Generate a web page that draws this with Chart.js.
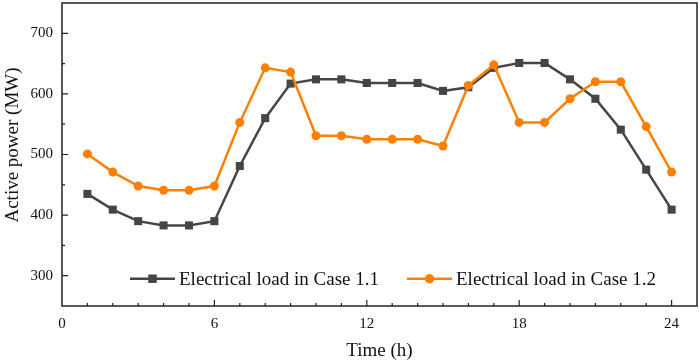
<!DOCTYPE html>
<html>
<head>
<meta charset="utf-8">
<script src="https://cdn.jsdelivr.net/npm/chart.js@4/dist/chart.umd.min.js"></script>
<style>
	html, body { margin: 0; padding: 0; background: #fff; }
	#wrap { width: 699px; height: 362px; }
</style>
</head>
<body>
<div id="wrap"><canvas id="chart1" width="699" height="362"></canvas></div>
<script>
(() => {
	'use strict'

	// Chart data
	const hours = [1, 2, 3, 4, 5, 6, 7, 8, 9, 10, 11, 12, 13, 14, 15, 16, 17, 18, 19, 20, 21, 22, 23, 24];
	const case11 = [435, 409, 390, 383, 383, 390, 481, 560, 617, 624, 624, 618, 618, 618, 605, 611, 643, 651, 651, 624, 592, 541, 475, 409];
	const case12 = [501, 471, 448, 441, 441, 448, 553, 643, 636, 531, 531, 525, 525, 525, 514, 614, 648, 553, 553, 592, 620, 620, 546, 471];
	const seriesLabels = ['Electrical load in Case 1.1', 'Electrical load in Case 1.2'];
	const xTicks = [0, 6, 12, 18, 24];
	const yTicks = [300, 400, 500, 600, 700];
	const xTitle = 'Time (h)';
	const yTitle = 'Active power (MW)';

	const grayColor = '#454545';
	const orangeColor = '#ff8000';
	const serif = '"Liberation Serif", "Times New Roman", serif';

	// Frame, inward ticks, titles and the in-plot legend
	const framePlugin = {
		id: 'frame',
		afterDraw(chart) {
			const ctx = chart.ctx;
			const area = chart.chartArea;
			const xs = chart.scales.x;
			const ys = chart.scales.y;
			ctx.save();
			ctx.strokeStyle = '#222';
			ctx.lineWidth = 1.5;
			ctx.strokeRect(area.left, area.top, area.right - area.left, area.bottom - area.top);

			// x ticks (major every 6, minor every 1)
			ctx.lineWidth = 1.2;
			ctx.beginPath();
			for (let v = 1; v <= 24; v++) {
				const px = xs.getPixelForValue(v);
				const len = xTicks.includes(v) ? 6 : 3;
				ctx.moveTo(px, area.bottom);
				ctx.lineTo(px, area.bottom - len);
			}
			// y ticks (major every 100, minor every 50)
			for (let v = 300; v <= 700; v += 50) {
				const py = ys.getPixelForValue(v);
				const len = yTicks.includes(v) ? 6 : 3;
				ctx.moveTo(area.left, py);
				ctx.lineTo(area.left + len, py);
			}
			ctx.stroke();

			// axis titles
			ctx.fillStyle = '#111';
			ctx.font = '19px ' + serif;
			ctx.textAlign = 'center';
			ctx.textBaseline = 'middle';
			ctx.fillText(xTitle, (area.left + area.right) / 2, 351);
			ctx.save();
			ctx.translate(13, 145);
			ctx.rotate(-Math.PI / 2);
			ctx.fillText(yTitle, 0, 0);
			ctx.restore();

			// legend
			const legendY = ys.getPixelForValue(295);
			const items = [
				{ x: area.left + 68, color: grayColor, style: 'rect', r: 5.7 },
				{ x: area.left + 345, color: orangeColor, style: 'circle', r: 4.5 }
			];
			ctx.textAlign = 'left';
			items.forEach((it, i) => {
				ctx.strokeStyle = it.color;
				ctx.lineWidth = 2.5;
				ctx.beginPath();
				ctx.moveTo(it.x, legendY);
				ctx.lineTo(it.x + 45, legendY);
				ctx.stroke();
				ctx.fillStyle = it.color;
				Chart.helpers.drawPoint(ctx, { pointStyle: it.style, radius: it.r, rotation: 0, borderWidth: 0 }, it.x + 22.5, legendY);
				ctx.fill();
				ctx.fillStyle = '#111';
				ctx.fillText(seriesLabels[i], it.x + 49, legendY + 1);
			});
			ctx.restore();
		}
	};

	const chart1 = document.getElementById('chart1');

	const dataChart1 = {
		datasets: [{
			label: seriesLabels[0],
			data: hours.map((h, i) => ({ x: h, y: case11[i] })),
			borderColor: grayColor,
			backgroundColor: grayColor,
			borderWidth: 2.5,
			pointStyle: 'rect',
			pointRadius: 5.7,
			pointBorderWidth: 0,
			order: 2
		}, {
			label: seriesLabels[1],
			data: hours.map((h, i) => ({ x: h, y: case12[i] })),
			borderColor: orangeColor,
			backgroundColor: orangeColor,
			borderWidth: 2.5,
			pointStyle: 'circle',
			pointRadius: 4.5,
			pointBorderWidth: 0,
			order: 1
		}]
	};

	const configChart1 = {
		type: 'line',
		data: dataChart1,
		options: {
			responsive: false,
			animation: false,
			devicePixelRatio: 1,
			layout: { autoPadding: false, padding: { top: 3, right: 2, left: 0, bottom: 0 } },
			plugins: {
				legend: { display: false },
				title: { display: false },
				tooltip: { enabled: false }
			},
			scales: {
				x: {
					type: 'linear',
					min: 0,
					max: 25,
					afterBuildTicks: (scale) => { scale.ticks = xTicks.map(v => ({ value: v })); },
					afterFit: (scale) => {
						scale.height = 56;
						scale.paddingLeft = 0;
						scale.paddingRight = 0;
					},
					grid: { display: false, drawTicks: false },
					border: { display: false },
					ticks: {
						color: '#111',
						font: { family: serif, size: 15 },
						padding: 9,
						maxRotation: 0
					}
				},
				y: {
					type: 'linear',
					min: 250,
					max: 750,
					afterBuildTicks: (scale) => { scale.ticks = yTicks.map(v => ({ value: v })); },
					afterFit: (scale) => {
						scale.width = 62;
						scale.paddingTop = 0;
						scale.paddingBottom = 0;
					},
					grid: { display: false, drawTicks: false },
					border: { display: false },
					ticks: {
						color: '#111',
						font: { family: serif, size: 15 },
						padding: 9
					}
				}
			}
		},
		plugins: [framePlugin]
	};

	new Chart(chart1, configChart1);
})()
</script>
</body>
</html>
